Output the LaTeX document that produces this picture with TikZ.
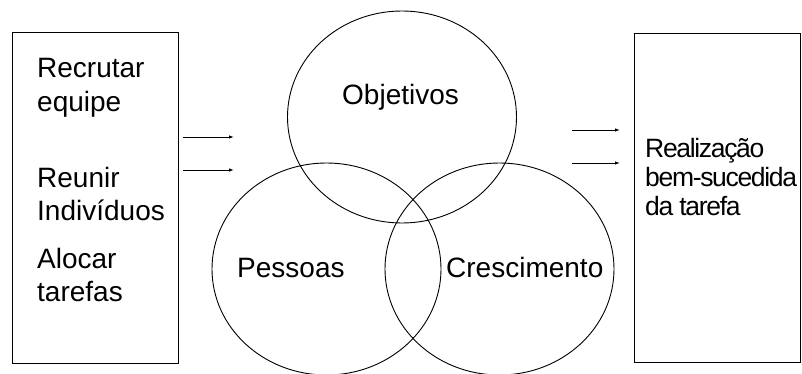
\documentclass[tikz,border=0pt]{standalone}
\usepackage{fontspec}
\setmainfont{Liberation Sans}
\usetikzlibrary{shapes.geometric,arrows.meta}
\begin{document}
\begin{tikzpicture}[x=1pt,y=-1pt,
  box/.style={draw,line width=0.9pt,rectangle,inner sep=0pt},
  venn/.style={draw,line width=0.9pt,ellipse,inner sep=0pt,minimum width=229pt,minimum height=212pt},
  big/.style={font=\fontsize{28}{33.5}\selectfont,align=left,inner sep=0pt},
  small/.style={font=\fontsize{26.5}{29}\selectfont\addfontfeature{LetterSpace=-5},align=left,inner sep=0pt},
  arr/.style={line width=0.9pt,-{Latex[length=5pt,width=3.5pt]}}]
\clip (0,0) rectangle (802,374);
\fill[white] (0,0) rectangle (802,374);
\node[box,minimum width=166pt,minimum height=331pt] (lb) at (95,197.5) {};
\node[box,minimum width=166pt,minimum height=329pt] (rb) at (717,197.5) {};
\node[venn] (obj) at (402,117) {};
\node[venn] (pes) at (326.5,269) {};
\node[venn] (cre) at (499.5,269) {};
\node[big,anchor=base west] (tobj) at (342,105) {Objetivos};
\node[big,anchor=base west] (tpes) at (237,277) {Pessoas};
\node[big,anchor=base west] (tcre) at (446,277) {Crescimento};
\node[big,anchor=base west] (t1) at (37,111.5) {Recrutar\\equipe};
\node[big,anchor=base west] (t2) at (37,220.5) {Reunir\\Indivíduos};
\node[big,anchor=base west] (t3) at (37,301.5) {Alocar\\tarefas};
\node[small,anchor=base west] (t4) at (645,215) {Realização\\bem-sucedida\\da tarefa};
\coordinate (l1s) at (183,137); \coordinate (l1e) at (234,137);
\coordinate (l2s) at (183,170); \coordinate (l2e) at (234,170);
\coordinate (r1s) at (572,130); \coordinate (r1e) at (620,130);
\coordinate (r2s) at (572,163); \coordinate (r2e) at (620,163);
\draw[arr] (l1s) -- (l1e);
\draw[arr] (l2s) -- (l2e);
\draw[arr] (r1s) -- (r1e);
\draw[arr] (r2s) -- (r2e);
\end{tikzpicture}
\end{document}
